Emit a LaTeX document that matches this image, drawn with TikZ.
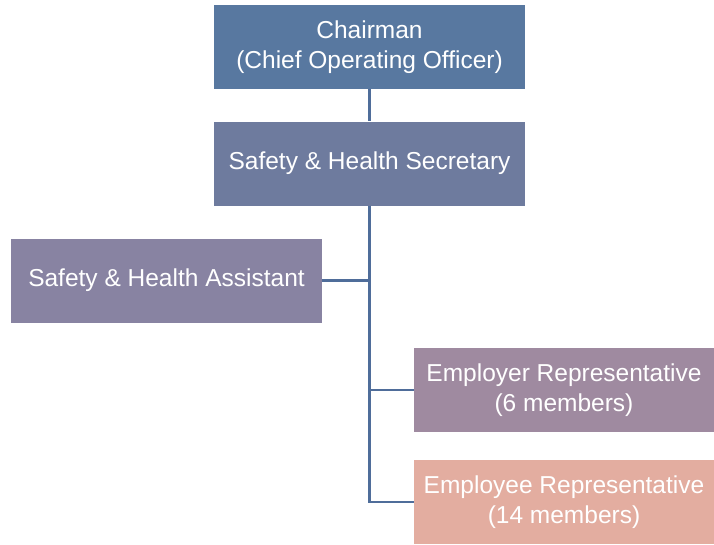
\documentclass[tikz,border=0pt]{standalone}
\usepackage{fontspec}
\setmainfont{Liberation Sans}
\definecolor{chaircol}{HTML}{5878A0}
\definecolor{secycol}{HTML}{6E7B9E}
\definecolor{assistcol}{HTML}{8883A2}
\definecolor{emplrcol}{HTML}{9F8AA0}
\definecolor{empeecol}{HTML}{E3ADA0}
\definecolor{linkcol}{HTML}{4F6D9A}
\tikzset{
  orgnode/.style = {align=center, inner sep=0pt, text=white, font=\fontsize{24.5}{30}\selectfont},
  widebox/.style = {orgnode, rectangle, minimum width=311pt, minimum height=84pt},
  repbox/.style = {orgnode, rectangle, minimum width=300pt, minimum height=84pt},
  link/.style = {draw=linkcol, line width=2.5pt},
}

\begin{document}
\begin{tikzpicture}[x=1pt, y=-1pt]
\useasboundingbox (0,0) rectangle (714,544);
\node [widebox, fill=chaircol] (chair) at (369.5,47) {Chairman\\(Chief Operating Officer)};
\node [widebox, fill=secycol] (secy) at (369.5,163.5) {Safety \& Health Secretary};
\node [widebox, fill=assistcol] (assist) at (166.5,280.5) {Safety \& Health Assistant};
\node [repbox, fill=emplrcol] (emplr) at (564,390) {Employer Representative\\(6 members)};
\node [repbox, fill=empeecol] (empee) at (564,502) {Employee Representative\\(14 members)};
% links
\draw [link] (chair.south) -- (secy.north);
\draw [link] (assist.east) -- (assist.east -| secy.south);
\draw [link] (secy.south) |- (emplr.west);
\draw [link] (secy.south) |- (empee.west);
\end{tikzpicture}
\end{document}
